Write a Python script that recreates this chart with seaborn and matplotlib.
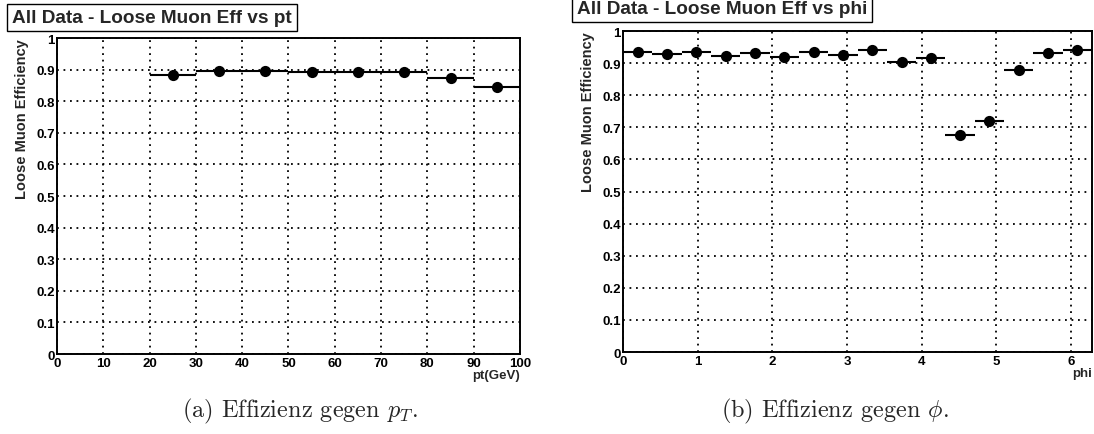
import numpy as np
import pandas as pd
import matplotlib
matplotlib.use("Agg")
import matplotlib.pyplot as plt
from matplotlib.ticker import MultipleLocator, FormatStrFormatter
import seaborn as sns

# ---------------- data ----------------
pt_edges = [20, 30, 40, 50, 60, 70, 80, 90, 100]
pt_eff = [0.884, 0.895, 0.895, 0.893, 0.894, 0.894, 0.872, 0.845]

phi_nbins = 16
phi_eff = [0.934, 0.929, 0.934, 0.921, 0.930, 0.919, 0.934, 0.924,
           0.942, 0.905, 0.917, 0.675, 0.720, 0.879, 0.933, 0.940]

titles = ["All Data - Loose Muon Eff vs pt", "All Data - Loose Muon Eff vs phi"]
xlabels = ["pt(GeV)", "phi"]
ylabel = "Loose Muon Efficiency"
captions = [r"(a) Effizienz gegen $p_T$.", r"(b) Effizienz gegen $\phi$."]

# ---------------- style ----------------
sns.set_theme(style="white")
plt.rcParams["font.family"] = ["Liberation Sans", "DejaVu Sans"]
plt.rcParams["font.weight"] = "bold"
plt.rcParams["axes.labelweight"] = "bold"
plt.rcParams["mathtext.fontset"] = "cm"

fig = plt.figure(figsize=(10.94, 4.35), dpi=100)
axL = fig.add_axes([0.0521, 0.1839, 0.4232, 0.7264])
axR = fig.add_axes([0.5695, 0.1885, 0.4287, 0.7379])

pt_lo = np.array(pt_edges[:-1], dtype=float)
pt_hi = np.array(pt_edges[1:], dtype=float)
phi_edges = np.linspace(0, 2 * np.pi, phi_nbins + 1)
phi_lo, phi_hi = phi_edges[:-1], phi_edges[1:]

dfL = pd.DataFrame({"x": (pt_lo + pt_hi) / 2, "y": pt_eff, "lo": pt_lo, "hi": pt_hi})
dfR = pd.DataFrame({"x": (phi_lo + phi_hi) / 2, "y": phi_eff, "lo": phi_lo, "hi": phi_hi})

grid_kw = dict(color="black", lw=1.3, ls=(0, (1, 2.6)))

for ax, df, xl, xlim, xmaj, xmin in [
    (axL, dfL, xlabels[0], (0, 100), 10, 2),
    (axR, dfR, xlabels[1], (0, 2 * np.pi), 1, 0.2),
]:
    ax.set_facecolor("white")
    ax.hlines(df["y"], df["lo"], df["hi"], color="black", lw=1.5, zorder=3)
    sns.scatterplot(data=df, x="x", y="y", ax=ax, color="black", s=65,
                    edgecolor="black", linewidth=0, zorder=4, legend=False)
    ax.set_xlim(*xlim)
    ax.set_ylim(0, 1)
    ax.xaxis.set_major_locator(MultipleLocator(xmaj))
    ax.xaxis.set_minor_locator(MultipleLocator(xmin))
    ax.yaxis.set_major_locator(MultipleLocator(0.1))
    ax.yaxis.set_minor_locator(MultipleLocator(0.02))
    ax.xaxis.set_major_formatter(FormatStrFormatter("%g"))
    ax.yaxis.set_major_formatter(FormatStrFormatter("%g"))
    ax.grid(True, which="major", **grid_kw)
    for sp in ax.spines.values():
        sp.set_visible(True)
        sp.set_color("black")
        sp.set_linewidth(1.4)
    ax.tick_params(axis="both", which="both", direction="in", colors="black",
                   labelsize=9.5, top=False, right=False)
    ax.tick_params(axis="y", which="major", length=11, width=1.3, pad=1.5)
    ax.tick_params(axis="y", which="minor", length=5, width=1.1)
    ax.tick_params(axis="x", which="major", length=7, width=1.3, pad=2)
    ax.tick_params(axis="x", which="minor", length=3.5, width=1.1)
    for lab in ax.get_xticklabels() + ax.get_yticklabels():
        lab.set_fontweight("bold")
    ax.set_xlabel(xl, loc="right", fontsize=9.5, fontweight="bold", labelpad=0)
    ax.set_ylabel(ylabel, loc="top", fontsize=10.5, fontweight="bold", labelpad=5)

# title boxes
box = dict(boxstyle="square,pad=0.25", fc="white", ec="black", lw=1.0)
fig.text(0.011, 0.957, titles[0], fontsize=13.7, fontweight="bold",
         ha="left", va="center", bbox=box)
fig.text(0.527, 0.978, titles[1], fontsize=13.7, fontweight="bold",
         ha="left", va="center", bbox=box)

# captions
fig.text(0.274, 0.055, captions[0], fontsize=17.5, family="cmr10",
         fontweight="normal", ha="center", va="center")
fig.text(0.763, 0.055, captions[1], fontsize=17.5, family="cmr10",
         fontweight="normal", ha="center", va="center")

fig.savefig("out.png", dpi=100, facecolor="white")
